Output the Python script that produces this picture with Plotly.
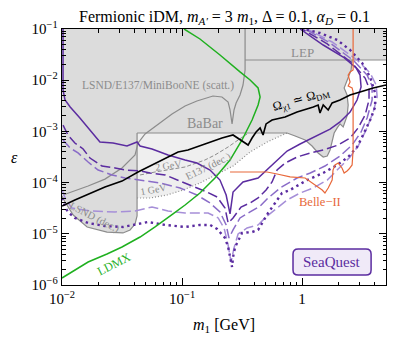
import math
import plotly.graph_objects as go

# ---------------- tick labels ----------------
x_tickvals = [0.01, 0.1, 1]
x_ticktext = ["10<sup>−2</sup>", "10<sup>−1</sup>", "1"]
y_tickvals = [1e-6, 1e-5, 1e-4, 1e-3, 1e-2, 1e-1]
y_ticktext = ["10<sup>−6</sup>", "10<sup>−5</sup>", "10<sup>−4</sup>",
              "10<sup>−3</sup>", "10<sup>−2</sup>", "10<sup>−1</sup>"]

# ---------------- excluded regions ----------------
excl_m = [0.01, 5.0, 5.0, 2.61, 2.56, 2.46, 2.33, 2.24, 2.37, 2.42, 2.37, 2.28, 2.20,
          2.07, 1.96, 1.85, 1.78, 1.71, 1.62, 1.50, 1.36, 1.21, 1.06, 0.875, 0.750,
          0.0422, 0.0422, 0.0406, 0.0369, 0.0322, 0.0237, 0.0162, 0.0124, 0.0106, 0.01]
excl_eps = [0.1, 0.1, 0.0248, 0.0248, 0.0158, 0.0121, 8.81e-3, 7.05e-3, 5.14e-3, 3.28e-3,
            2.00e-3, 1.53e-3, 1.22e-3, 1.40e-3, 1.17e-3, 9.31e-4, 6.79e-4, 4.33e-4,
            3.31e-4, 3.16e-4, 3.79e-4, 5.18e-4, 6.79e-4, 8.13e-4, 9.31e-4,
            9.31e-4, 2.23e-5, 1.55e-5, 1.19e-5, 1.04e-5, 1.08e-5, 1.36e-5, 2.33e-5,
            4.18e-5, 5.47e-5]

babar_m = [0.0422, 0.750, 0.875, 1.06, 1.21, 1.36, 1.50, 1.62, 1.71, 1.78, 1.85, 1.96,
           2.07, 2.20, 2.28, 2.37, 2.42, 2.37, 2.24, 2.33, 2.46, 2.56, 2.61]
babar_eps = [9.31e-4, 9.31e-4, 8.13e-4, 6.79e-4, 5.18e-4, 3.79e-4, 3.16e-4, 3.31e-4,
             4.33e-4, 6.79e-4, 9.31e-4, 1.17e-3, 1.40e-3, 1.22e-3, 1.53e-3, 2.00e-3,
             3.28e-3, 5.14e-3, 7.05e-3, 8.81e-3, 0.0121, 0.0158, 0.0248]

lsnd_dec_m = [0.0422, 0.0422, 0.0406, 0.0369, 0.0322, 0.0237, 0.0162, 0.0124, 0.0106, 0.01]
lsnd_dec_eps = [9.31e-4, 2.23e-5, 1.55e-5, 1.19e-5, 1.04e-5, 1.08e-5, 1.36e-5, 2.33e-5,
                4.18e-5, 5.47e-5]

scatt_m = [0.0102, 0.0128, 0.0165, 0.0228, 0.0316, 0.0406, 0.0430, 0.0492, 0.0631,
           0.0825, 0.106, 0.133, 0.181, 0.215, 0.242, 0.251, 0.261, 0.271, 0.282,
           0.304, 0.322, 0.335, 0.335]
scatt_eps = [5.72e-5, 6.85e-5, 8.59e-5, 1.17e-4, 1.93e-4, 3.46e-4, 5.93e-4, 8.9e-4,
             1.40e-3, 2.19e-3, 3.14e-3, 3.92e-3, 4.91e-3, 4.70e-3, 3.75e-3, 2.62e-3,
             1.40e-3, 2.62e-3, 3.59e-3, 5.14e-3, 8.06e-3, 0.0158, 0.1]

lep_m = [0.335, 5.0]
lep_eps = [0.0248, 0.0248]

e137_m = [0.0422, 0.0541, 0.0750, 0.102, 0.141, 0.196, 0.266, 0.369, 0.511, 0.656, 0.750]
e137_eps = [5.00e-5, 5.00e-5, 5.72e-5, 7.17e-5, 9.82e-5, 1.47e-4, 2.11e-4, 3.96e-4,
            6.20e-4, 8.13e-4, 9.31e-4]

e137_2gev_m = [0.0447, 0.0596, 0.106, 0.155, 0.188, 0.215, 0.242, 0.293, 0.348]
e137_2gev_eps = [1.41e-4, 1.61e-4, 2.02e-4, 2.76e-4, 3.46e-4, 4.14e-4, 4.96e-4,
                 6.79e-4, 8.9e-4]

# ---------------- LDMX ----------------
ldmx_m = [0.01, 0.0165, 0.0237, 0.0316, 0.0447, 0.0596, 0.0841, 0.106, 0.141, 0.188,
          0.251, 0.316, 0.383, 0.430, 0.447, 0.430, 0.369, 0.304, 0.207, 0.141, 0.104]
ldmx_eps = [1.37e-6, 2.81e-6, 4.03e-6, 5.53e-6, 8.66e-6, 1.36e-5, 2.44e-5, 3.65e-5,
            6.26e-5, 1.23e-4, 2.76e-4, 6.79e-4, 1.67e-3, 3.28e-3, 4.70e-3, 7.05e-3,
            1.01e-2, 1.45e-2, 3.11e-2, 6.38e-2, 0.1]

# ---------------- relic target ----------------
relic_m = [0.01, 0.0128, 0.0228, 0.0316, 0.0430, 0.0681, 0.0927, 0.112, 0.165, 0.215,
           0.266, 0.304, 0.335, 0.355, 0.383, 0.414, 0.447, 0.473, 0.501, 0.562, 0.722,
           0.908, 1.24, 1.36, 1.41, 1.50, 1.65, 1.78, 2.07, 2.51, 3.04, 3.91, 5.0]
relic_eps = [3.49e-5, 4.57e-5, 8.21e-5, 1.07e-4, 1.61e-4, 2.76e-4, 3.96e-4, 4.33e-4,
             5.93e-4, 7.43e-4, 8.51e-4, 6.79e-4, 5.93e-4, 5.42e-4, 7.43e-4, 9.73e-4,
             1.17e-3, 8.51e-4, 1.40e-3, 1.67e-3, 1.91e-3, 2.39e-3, 3.00e-3, 3.28e-3,
             2.29e-3, 3.28e-3, 2.62e-3, 3.59e-3, 4.10e-3, 5.14e-3, 5.89e-3, 7.05e-3,
             8.06e-3]

# ---------------- Belle-II ----------------
belle_m = [0.251, 0.511, 0.619, 0.794, 1.06, 1.24, 1.47, 1.55, 1.65, 1.78, 1.81, 1.88,
           2.00, 2.15, 2.24, 2.37, 2.46, 2.61, 2.66, 2.66, 2.61, 2.42, 2.51, 2.42, 2.51,
           2.66, 2.66]
belle_eps = [1.61e-4, 1.61e-4, 1.47e-4, 1.29e-4, 1.23e-4, 9.39e-5, 7.17e-5, 6.26e-5,
             7.85e-5, 1.12e-4, 1.76e-4, 2.21e-4, 2.41e-4, 1.93e-4, 1.54e-4, 1.69e-4,
             1.84e-4, 2.21e-4, 4.33e-4, 5.89e-3, 7.05e-3, 7.70e-3, 9.22e-3, 1.26e-2,
             1.45e-2, 1.58e-2, 0.1]

# ---------------- SeaQuest projections ----------------
sq_solid_m = [0.0102, 0.0102, 0.0106, 0.0117, 0.0141, 0.0165, 0.0207, 0.0266, 0.0348,
              0.0422, 0.0447, 0.0562, 0.0764, 0.106, 0.133, 0.171, 0.207, 0.233, 0.251,
              0.266, 0.322, 0.430, 0.541, 0.750, 0.962, 1.33, 1.71, 2.07, 2.51, 2.87,
              3.10, 3.04, 2.82, 2.20, 1.50, 0.962]
sq_solid_eps = [0.1, 6.44e-3, 4.10e-3, 3.00e-3, 1.83e-3, 1.17e-3, 6.20e-4, 5.93e-4,
                5.18e-4, 6.20e-4, 5.18e-4, 4.53e-4, 3.46e-4, 2.76e-4, 2.41e-4, 1.76e-4,
                1.12e-4, 5.72e-5, 2.44e-5, 6.55e-5, 1.03e-4, 1.23e-4, 2.02e-4, 4.14e-4,
                5.67e-4, 8.13e-4, 1.11e-3, 1.53e-3, 2.39e-3, 4.10e-3, 7.36e-3, 1.26e-2,
                1.73e-2, 2.84e-2, 4.87e-2, 0.1]

sq_ldark_m = [0.0102, 0.0112, 0.0128, 0.0150, 0.0171, 0.0215, 0.0277, 0.0335, 0.0447,
              0.0541, 0.0722, 0.0963, 0.128, 0.161, 0.196, 0.228, 0.242, 0.266, 0.310,
              0.369, 0.430, 0.501, 0.562, 0.619, 0.722, 0.908, 1.17, 1.50, 2.00, 2.51,
              2.93, 3.35, 3.61, 3.61, 3.35, 2.61, 1.62, 1.0]
sq_ldark_eps = [1.33e-3, 8.51e-4, 5.93e-4, 4.53e-4, 3.02e-4, 2.11e-4, 1.93e-4, 1.76e-4,
                1.69e-4, 1.54e-4, 1.41e-4, 1.07e-4, 8.21e-5, 6.55e-5, 5.23e-5, 3.19e-5,
                1.63e-5, 2.04e-5, 3.34e-5, 4.00e-5, 5.00e-5, 7.17e-5, 1.03e-4, 1.76e-4,
                2.41e-4, 3.16e-4, 3.79e-4, 4.33e-4, 5.42e-4, 7.43e-4, 1.17e-3, 2.09e-3,
                4.10e-3, 7.05e-3, 1.10e-2, 2.17e-2, 5.10e-2, 0.1]

sq_lmid_m = [0.0102, 0.0117, 0.0136, 0.0165, 0.0200, 0.0261, 0.0335, 0.0447, 0.0656,
             0.0963, 0.133, 0.171, 0.207, 0.233, 0.246, 0.266, 0.304, 0.369, 0.447,
             0.521, 0.656, 0.908, 1.17, 1.55, 2.07, 2.61, 3.10, 3.48, 3.83, 3.83, 3.48,
             2.71, 1.71, 1.06]
sq_lmid_eps = [6.79e-4, 4.74e-4, 3.79e-4, 2.52e-4, 1.76e-4, 1.41e-4, 1.23e-4, 1.12e-4,
               9.82e-5, 7.85e-5, 5.72e-5, 4.00e-5, 2.67e-5, 1.49e-5, 8.28e-6, 1.19e-5,
               2.04e-5, 2.67e-5, 3.49e-5, 5.00e-5, 7.85e-5, 1.23e-4, 1.54e-4, 2.11e-4,
               3.31e-4, 5.42e-4, 9.73e-4, 1.83e-3, 4.10e-3, 7.70e-3, 1.26e-2, 2.37e-2,
               5.33e-2, 0.1]

sq_llight_m = [0.01, 0.0108, 0.0121, 0.0171, 0.0277, 0.0406, 0.0562, 0.0764, 0.106,
               0.165, 0.200, 0.224, 0.242, 0.256, 0.271, 0.293, 0.348, 0.430, 0.501,
               0.619, 0.750, 0.962, 1.24, 1.62, 2.07, 2.51, 2.93, 3.41, 3.91, 4.22, 4.14,
               3.69, 2.87, 1.78, 1.10]
sq_llight_eps = [7.17e-5, 4.57e-5, 3.19e-5, 2.79e-5, 2.67e-5, 2.79e-5, 3.34e-5, 2.79e-5,
                 2.55e-5, 2.55e-5, 2.04e-5, 1.30e-5, 6.04e-6, 2.81e-6, 5.28e-6, 9.91e-6,
                 1.30e-5, 1.49e-5, 2.13e-5, 3.19e-5, 4.57e-5, 6.26e-5, 7.85e-5, 1.12e-4,
                 2.02e-4, 3.16e-4, 5.18e-4, 1.06e-3, 2.39e-3, 4.70e-3, 8.06e-3, 1.38e-2,
                 2.48e-2, 5.57e-2, 0.1]

sq_dot_m = [0.01, 0.0106, 0.0112, 0.0128, 0.0165, 0.0228, 0.0322, 0.0406, 0.0521,
            0.0722, 0.106, 0.141, 0.171, 0.196, 0.228, 0.242, 0.251, 0.261, 0.266,
            0.277, 0.316, 0.383, 0.430, 0.521, 0.596, 0.681, 0.794, 1.10, 1.50, 1.96,
            2.42, 2.87, 3.16, 3.69, 4.06, 4.06, 3.69, 3.16, 2.51, 1.96, 1.41, 1.02]
sq_dot_eps = [5.00e-5, 3.34e-5, 2.67e-5, 2.04e-5, 1.63e-5, 1.42e-5, 1.36e-5, 1.49e-5,
              1.70e-5, 1.49e-5, 1.36e-5, 1.49e-5, 1.49e-5, 1.24e-5, 8.28e-6, 5.53e-6,
              3.52e-6, 2.25e-6, 3.52e-6, 5.53e-6, 1.04e-5, 1.08e-5, 1.19e-5, 2.55e-5,
              4.00e-5, 6.26e-5, 7.17e-5, 1.12e-4, 1.54e-4, 2.21e-4, 3.16e-4, 4.96e-4,
              7.78e-4, 1.67e-3, 3.00e-3, 5.62e-3, 1.15e-2, 2.17e-2, 3.89e-2, 6.10e-2,
              8.35e-2, 0.1]

# ---------------- styles ----------------
DARK = "#5b2ca0"
LIGHT = "#a68fd8"
GRAY_LINE = "#8c8c8c"
GRAY_FILL = "#dcdcdc"
LIGHT_FILL = "#efefef"
GREEN = "#1fb01f"
ORANGE = "#e8683a"
FONT = "Liberation Serif"

fig = go.Figure()

def add(x, y, **kw):
    fig.add_trace(go.Scatter(x=x, y=y, mode="lines", hoverinfo="skip", showlegend=False, **kw))

# fills
add(excl_m, excl_eps, fill="toself", fillcolor=GRAY_FILL, line=dict(width=0))
add(e137_m[::-1] + [babar_m[0], babar_m[1]], e137_eps[::-1] + [babar_eps[0], babar_eps[1]],
    fill="toself", fillcolor=LIGHT_FILL, line=dict(width=0))

# outlines
for xm, ye in [(babar_m, babar_eps), (lsnd_dec_m, lsnd_dec_eps), (scatt_m, scatt_eps), (lep_m, lep_eps)]:
    add(xm, ye, line=dict(color=GRAY_LINE, width=1.2))
add(e137_m, e137_eps, line=dict(color=GRAY_LINE, width=1.2, dash="1px,2px"))
add(e137_2gev_m, e137_2gev_eps, line=dict(color=GRAY_LINE, width=1.0, dash="4px,2px"))

# SeaQuest
add(sq_llight_m, sq_llight_eps, line=dict(color=LIGHT, width=1.5, dash="10px,4px"))
add(sq_lmid_m, sq_lmid_eps, line=dict(color="#8a6cc8", width=1.5, dash="10px,4px"))
add(sq_dot_m, sq_dot_eps, line=dict(color=DARK, width=2.4, dash="2.4px,3.6px"))
add(sq_ldark_m, sq_ldark_eps, line=dict(color=DARK, width=1.5, dash="10px,4px"))
add(sq_solid_m, sq_solid_eps, line=dict(color=DARK, width=1.5))

# others
add(ldmx_m, ldmx_eps, line=dict(color=GREEN, width=1.5))
add(belle_m, belle_eps, line=dict(color=ORANGE, width=1.2))
add(relic_m, relic_eps, line=dict(color="black", width=1.6))


def L(v):
    return math.log10(v)

ann = []
def text(x, y, s, size, color, angle=0, **kw):
    ann.append(dict(x=L(x), y=L(y), xref="x", yref="y", text=s, showarrow=False,
                    font=dict(family=FONT, size=size, color=color), textangle=angle, **kw))

text(0.0631, 8.06e-3, "LSND/E137/MiniBooNE (scatt.)", 11.5, GRAY_LINE)
text(0.155, 1.40e-3, "BaBar", 14, GRAY_LINE)
text(1.0, 0.0355, "LEP", 13, GRAY_LINE)
text(0.98, 4.1e-3, "Ω<sub>χ1</sub> ≃ Ω<sub>DM</sub>", 12.5, "black", -16)
text(1.41, 4.2e-5, "Belle−II", 12.5, ORANGE)
text(0.0271, 2.6e-6, "LDMX", 12, GREEN, -27)
text(0.0188, 2.0e-5, "LSND (dec.)", 10.5, GRAY_LINE, 27)
text(0.0764, 2.2e-4, "2 GeV", 10, GRAY_LINE, -8)
text(0.0573, 7.5e-5, "1 GeV", 10, GRAY_LINE, -10)
text(0.165, 2.0e-4, "E137 (dec.)", 10.5, GRAY_LINE, -26)

# title / axis titles
ann.append(dict(x=0.5, y=1.09, xref="paper", yref="paper", showarrow=False,
                text="Fermionic iDM, <i>m</i><sub><i>A′</i></sub> = 3 <i>m</i><sub>1</sub>, Δ = 0.1, <i>α</i><sub><i>D</i></sub> = 0.1",
                font=dict(family=FONT, size=16, color="black")))
ann.append(dict(x=0.5, y=-0.158, xref="paper", yref="paper", showarrow=False, yanchor="middle",
                text="<i>m</i><sub>1</sub> [GeV]", font=dict(family=FONT, size=16, color="black")))
ann.append(dict(x=-0.165, y=0.5, xref="paper", yref="paper", showarrow=False,
                text="<i>ε</i>", font=dict(family=FONT, size=16, color="black")))
# SeaQuest badge
ann.append(dict(x=0.833, y=0.09, xref="paper", yref="paper", showarrow=False,
                xanchor="center", yanchor="middle",
                text="SeaQuest", font=dict(family=FONT, size=15, color=DARK)))

# rounded box path in paper coords
x0, x1, y0, y1 = 0.713, 0.954, 0.039, 0.141
rx, ry = 0.016, 0.02
path = (f"M {x0+rx},{y0} L {x1-rx},{y0} Q {x1},{y0} {x1},{y0+ry} L {x1},{y1-ry} "
        f"Q {x1},{y1} {x1-rx},{y1} L {x0+rx},{y1} Q {x0},{y1} {x0},{y1-ry} "
        f"L {x0},{y0+ry} Q {x0},{y0} {x0+rx},{y0} Z")

minor_x = [k * 10 ** e for e in (-2, -1, 0) for k in range(2, 10) if k * 10 ** e < 5.01]
minor_y = [k * 10 ** e for e in (-6, -5, -4, -3, -2) for k in range(2, 10)]

axis_common = dict(type="log", showgrid=False, zeroline=False, showline=True,
                   linecolor="black", linewidth=1.3, ticks="inside", ticklen=7,
                   tickwidth=1, tickcolor="black", mirror="allticks",
                   tickfont=dict(family=FONT, size=15, color="black"))

fig.update_layout(
    width=415, height=345,
    margin=dict(l=62, r=29, t=29, b=60),
    plot_bgcolor="white", paper_bgcolor="white",
    showlegend=False,
    annotations=ann,
    shapes=[dict(type="path", path=path, xref="paper", yref="paper",
                 fillcolor="#f0eaf8", line=dict(color=DARK, width=1.5), layer="below")],
    xaxis=dict(range=[-2, L(5.0)], tickvals=x_tickvals, ticktext=x_ticktext,
               minor=dict(tickvals=minor_x, ticks="inside", ticklen=3.5, tickcolor="black"),
               **axis_common),
    yaxis=dict(range=[-6, -1], tickvals=y_tickvals, ticktext=y_ticktext,
               minor=dict(tickvals=minor_y, ticks="inside", ticklen=3.5, tickcolor="black"),
               **axis_common),
)

fig.write_html("out.html", config={"staticPlot": True},
               post_script="document.body.style.margin='0px';document.body.style.overflow='hidden';")
